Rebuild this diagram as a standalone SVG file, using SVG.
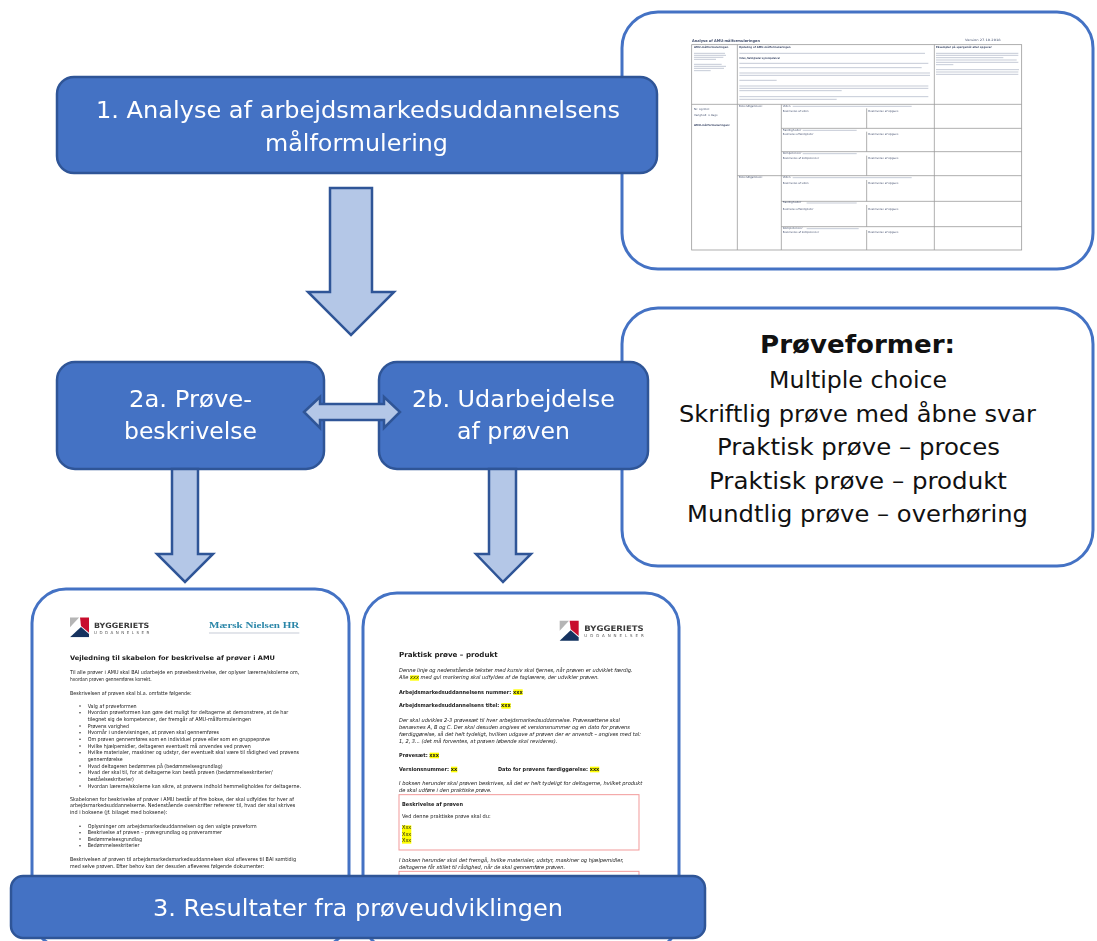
<svg xmlns="http://www.w3.org/2000/svg" width="1097" height="941" viewBox="0 0 1097 941">
<style>
text{font-family:"DejaVu Sans",Verdana,sans-serif}
.box{fill:#4472C4;stroke:#2F5597;stroke-width:2.5}
.panel{fill:#fff;stroke:#4472C4;stroke-width:3}
.lbl{fill:#fff;font-size:23.5px}
.pf{fill:#111;font-size:23.5px}
.arrow{fill:#B4C7E7;stroke:#2F5597;stroke-width:2.5;stroke-linejoin:miter}
.d{fill:#1a1a1a;font-size:16px}
.i{font-style:italic}
.b{font-weight:700}
.hl{fill:#FFFF00}
.red{fill:none;stroke:#F29A9A;stroke-width:3}
.t{fill:#44506e;font-size:8px}
.g{stroke:#9a9a9a;stroke-width:2.4;fill:none}
.bar{stroke:#5c6a8c;stroke-width:2.4;opacity:.45;fill:none}
.dot{fill:#222}
</style>
<defs>
<filter id="soft" x="-5%" y="-5%" width="110%" height="110%"><feGaussianBlur stdDeviation="1.1"/></filter>
<g id="logo">
<polygon points="0,0 28,0 0,30" fill="#B5B5B5"/>
<polygon points="30,0 57,0 57,46 33,26" fill="#C8102E"/>
<polygon points="0,60 33,29 57,50 57,60" fill="#14335F"/>
</g>
</defs>

<g id="panel-analysis">
<rect class="panel" x="622" y="12" width="471" height="257" rx="36"/>
<g transform="translate(620,0) scale(.33333)" filter="url(#soft)">
<text class="t b" x="216" y="125" style="font-size:11px" textLength="204" lengthAdjust="spacingAndGlyphs">Analyse af AMU-målformuleringen</text>
<text class="t" x="1035" y="124" style="font-size:9px" textLength="107" lengthAdjust="spacingAndGlyphs">Version 27.10.2018</text>
<rect class="g" x="215" y="134" width="990" height="616"/>
<path class="g" d="M352 134V750M484 313V750M943 134V750M215 313H1205M484 385H1205M484 455H1205M352 527H1205M484 604H1205M484 680H1205M740 325V385M740 395V455M740 467V527M740 540V604M740 615V680M740 690V750"/>
<text class="t b" x="222" y="145" textLength="103" lengthAdjust="spacingAndGlyphs">AMU-målformuleringen</text>
<text class="t b" x="357" y="145" textLength="155" lengthAdjust="spacingAndGlyphs">Opdeling af AMU-målformuleringen</text>
<text class="t b" x="948" y="145" textLength="167" lengthAdjust="spacingAndGlyphs">Eksempler på spørgsmål eller opgaver</text>
<path class="bar" d="M222 160H315M222 166H318M222 172H310M222 178H288M222 193H305M222 199H318M222 205H312M222 212H272"/>
<path class="bar" d="M358 160H915M358 190H925M358 203H905M358 219H930M358 226H930M358 241H470M358 258H925M358 265H925M358 272H665M358 290H925M358 298H650"/>
<path class="bar" d="M948 160H1195M948 166H1195M948 173H1150M948 180H1190M948 187H1195M948 194H1000M948 209H1197M948 216H1195M948 223H1195"/>
<text class="t b" x="358" y="178" textLength="122" lengthAdjust="spacingAndGlyphs">Viden, færdigheder og kompetencer</text>
<text class="t" x="222" y="331" textLength="48" lengthAdjust="spacingAndGlyphs">Nr. og titel:</text>
<text class="t" x="222" y="349" textLength="71" lengthAdjust="spacingAndGlyphs">Varighed: x dage</text>
<text class="t b" x="222" y="378" textLength="108" lengthAdjust="spacingAndGlyphs">AMU-målformuleringen:</text>
<text class="t" x="357" y="320" textLength="72" lengthAdjust="spacingAndGlyphs">Bekendtgørelsen:</text>
<text class="t" x="357" y="534" textLength="72" lengthAdjust="spacingAndGlyphs">Bekendtgørelsen:</text>
<text class="t" x="488" y="320" textLength="24" lengthAdjust="spacingAndGlyphs">Viden</text>
<path class="bar" d="M518 319H875M518 533H875M548 391H710M548 461H710M560 609H710M560 686H716"/>
<text class="t" x="488" y="534" textLength="24" lengthAdjust="spacingAndGlyphs">Viden</text>
<text class="t" x="488" y="392" textLength="56" lengthAdjust="spacingAndGlyphs">Færdigheder</text>
<text class="t" x="488" y="462" textLength="56" lengthAdjust="spacingAndGlyphs">Kompetencer</text>
<text class="t" x="488" y="610" textLength="56" lengthAdjust="spacingAndGlyphs">Færdigheder</text>
<text class="t" x="488" y="687" textLength="60" lengthAdjust="spacingAndGlyphs">Kompetencer</text>
<text class="t" x="488" y="335" textLength="78" lengthAdjust="spacingAndGlyphs">Beskrivelse af viden</text>
<text class="t" x="488" y="405" textLength="92" lengthAdjust="spacingAndGlyphs">Beskrivelse af færdigheder</text>
<text class="t" x="488" y="477" textLength="109" lengthAdjust="spacingAndGlyphs">Beskrivelse af kompetencer</text>
<text class="t" x="488" y="551" textLength="78" lengthAdjust="spacingAndGlyphs">Beskrivelse af viden</text>
<text class="t" x="488" y="629" textLength="92" lengthAdjust="spacingAndGlyphs">Beskrivelse af færdigheder</text>
<text class="t" x="488" y="700" textLength="109" lengthAdjust="spacingAndGlyphs">Beskrivelse af kompetencer</text>
<text class="t" x="745" y="335" textLength="90" lengthAdjust="spacingAndGlyphs">Beskrivelse af opgave</text>
<text class="t" x="745" y="405" textLength="90" lengthAdjust="spacingAndGlyphs">Beskrivelse af opgave</text>
<text class="t" x="745" y="477" textLength="90" lengthAdjust="spacingAndGlyphs">Beskrivelse af opgave</text>
<text class="t" x="745" y="551" textLength="90" lengthAdjust="spacingAndGlyphs">Beskrivelse af opgave</text>
<text class="t" x="745" y="629" textLength="90" lengthAdjust="spacingAndGlyphs">Beskrivelse af opgave</text>
<text class="t" x="745" y="700" textLength="90" lengthAdjust="spacingAndGlyphs">Beskrivelse af opgave</text>
</g>
</g>

<g id="panel-proeveformer">
<rect class="panel" x="622" y="308" width="471" height="258" rx="36"/>
<text class="pf b" x="760" y="353" style="font-size:25px" textLength="195" lengthAdjust="spacingAndGlyphs">Prøveformer:</text>
<text class="pf" x="769" y="388" textLength="178" lengthAdjust="spacingAndGlyphs">Multiple choice</text>
<text class="pf" x="679" y="422" textLength="357" lengthAdjust="spacingAndGlyphs">Skriftlig prøve med åbne svar</text>
<text class="pf" x="717" y="455" textLength="283" lengthAdjust="spacingAndGlyphs">Praktisk prøve – proces</text>
<text class="pf" x="709" y="489" textLength="298" lengthAdjust="spacingAndGlyphs">Praktisk prøve – produkt</text>
<text class="pf" x="687" y="522" textLength="341" lengthAdjust="spacingAndGlyphs">Mundtlig prøve – overhøring</text>
</g>

<g id="panel-vejledning">
<rect class="panel" x="32" y="589" width="317" height="359" rx="34"/>
<g transform="translate(20,585) scale(.33333)" filter="url(#soft)">
<use href="#logo" x="150" y="97"/>
<text x="222" y="128" class="b" fill="#3a3a3a" font-size="22" textLength="166" lengthAdjust="spacingAndGlyphs">BYGGERIETS</text>
<text x="222" y="147" fill="#555" font-size="12" textLength="166" lengthAdjust="spacing">UDDANNELSER</text>
<text x="567" y="128" style="font-family:'Liberation Serif',serif;font-weight:700;font-size:26px" fill="#2A86A8" textLength="271" lengthAdjust="spacingAndGlyphs">Mærsk Nielsen HR</text>
<path class="bar" d="M567 144H838"/>
<text class="d b" x="150" y="226" style="font-size:19px" textLength="615" lengthAdjust="spacingAndGlyphs">Vejledning til skabelon for beskrivelse af prøver i AMU</text>
<text class="d" x="150" y="268" textLength="688" lengthAdjust="spacingAndGlyphs">Til alle prøver i AMU skal BAI udarbejde en prøvebeskrivelse, der oplyser lærerne/skolerne om,</text>
<text class="d" x="150" y="288" textLength="245" lengthAdjust="spacingAndGlyphs">hvordan prøven gennemføres korrekt.</text>
<text class="d" x="150" y="329" textLength="365" lengthAdjust="spacingAndGlyphs">Beskrivelsen af prøven skal bl.a. omfatte følgende:</text>
<g class="dot"><circle cx="180" cy="363" r="2.2"/><circle cx="180" cy="383" r="2.2"/><circle cx="180" cy="423" r="2.2"/><circle cx="180" cy="443" r="2.2"/><circle cx="180" cy="463" r="2.2"/><circle cx="180" cy="483" r="2.2"/><circle cx="180" cy="503" r="2.2"/><circle cx="180" cy="543" r="2.2"/><circle cx="180" cy="563" r="2.2"/><circle cx="180" cy="603" r="2.2"/><circle cx="180" cy="724" r="2.2"/><circle cx="180" cy="743" r="2.2"/><circle cx="180" cy="762" r="2.2"/><circle cx="180" cy="782" r="2.2"/></g>
<text class="d" x="203" y="368" textLength="147" lengthAdjust="spacingAndGlyphs">Valg af prøveformen</text>
<text class="d" x="203" y="388" textLength="602" lengthAdjust="spacingAndGlyphs">Hvordan prøveformen kan gøre det muligt for deltagerne at demonstrere, at de har</text>
<text class="d" x="203" y="408" textLength="490" lengthAdjust="spacingAndGlyphs">tilegnet sig de kompetencer, der fremgår af AMU-målformuleringen</text>
<text class="d" x="203" y="428" textLength="124" lengthAdjust="spacingAndGlyphs">Prøvens varighed</text>
<text class="d" x="203" y="448" textLength="394" lengthAdjust="spacingAndGlyphs">Hvornår i undervisningen, at prøven skal gennemføres</text>
<text class="d" x="203" y="468" textLength="547" lengthAdjust="spacingAndGlyphs">Om prøven gennemføres som en individuel prøve eller som en gruppeprøve</text>
<text class="d" x="203" y="488" textLength="489" lengthAdjust="spacingAndGlyphs">Hvilke hjælpemidler, deltageren eventuelt må anvendes ved prøven</text>
<text class="d" x="203" y="508" textLength="634" lengthAdjust="spacingAndGlyphs">Hvilke materialer, maskiner og udstyr, der eventuelt skal være til rådighed ved prøvens</text>
<text class="d" x="203" y="528" textLength="105" lengthAdjust="spacingAndGlyphs">gennemførelse</text>
<text class="d" x="203" y="548" textLength="405" lengthAdjust="spacingAndGlyphs">Hvad deltageren bedømmes på (bedømmelsesgrundlag)</text>
<text class="d" x="203" y="568" textLength="555" lengthAdjust="spacingAndGlyphs">Hvad der skal til, for at deltagerne kan bestå prøven (bedømmelseskriterier/</text>
<text class="d" x="203" y="588" textLength="139" lengthAdjust="spacingAndGlyphs">beståelseskriterier)</text>
<text class="d" x="203" y="608" textLength="640" lengthAdjust="spacingAndGlyphs">Hvordan lærerne/skolerne kan sikre, at prøvens indhold hemmeligholdes for deltagerne.</text>
<text class="d" x="150" y="647" textLength="672" lengthAdjust="spacingAndGlyphs">Skabelonen for beskrivelse af prøver i AMU består af fire bokse, der skal udfyldes for hver af</text>
<text class="d" x="150" y="667" textLength="676" lengthAdjust="spacingAndGlyphs">arbejdsmarkedsuddannelserne. Nedenstående overskrifter refererer til, hvad der skal skrives</text>
<text class="d" x="150" y="687" textLength="292" lengthAdjust="spacingAndGlyphs">ind i boksene (jf. bilaget med boksene):</text>
<text class="d" x="203" y="729" textLength="507" lengthAdjust="spacingAndGlyphs">Oplysninger om arbejdsmarkedsuddannelsen og den valgte prøveform</text>
<text class="d" x="203" y="748" textLength="403" lengthAdjust="spacingAndGlyphs">Beskrivelse af prøven – prøvegrundlag og prøverammer</text>
<text class="d" x="203" y="767" textLength="163" lengthAdjust="spacingAndGlyphs">Bedømmelsesgrundlag</text>
<text class="d" x="203" y="787" textLength="155" lengthAdjust="spacingAndGlyphs">Bedømmelseskriterier</text>
<text class="d" x="150" y="828" textLength="678" lengthAdjust="spacingAndGlyphs">Beskrivelsen af prøven til arbejdsmarkedsmarkedsuddannelsen skal afleveres til BAI samtidig</text>
<text class="d" x="150" y="848" textLength="583" lengthAdjust="spacingAndGlyphs">med selve prøven. Efter behov kan der desuden afleveres følgende dokumenter:</text>
</g>
</g>

<g id="panel-praktisk">
<rect class="panel" x="363" y="593" width="316" height="358" rx="34"/>
<g transform="translate(355,585) scale(.33333)" filter="url(#soft)">
<use href="#logo" x="614" y="107"/>
<text x="688" y="138" class="b" fill="#3a3a3a" font-size="23" textLength="178" lengthAdjust="spacingAndGlyphs">BYGGERIETS</text>
<text x="688" y="155" fill="#555" font-size="12" textLength="178" lengthAdjust="spacing">UDDANNELSER</text>
<text class="d b" x="132" y="217" style="font-size:21px" textLength="296" lengthAdjust="spacingAndGlyphs">Praktisk prøve – produkt</text>
<rect class="hl" x="165" y="271" width="27" height="16"/>
<rect class="hl" x="475" y="313" width="28" height="17"/>
<rect class="hl" x="439" y="354" width="28" height="17"/>
<rect class="hl" x="224" y="503" width="28" height="17"/>
<rect class="hl" x="288" y="545" width="19" height="17"/>
<rect class="hl" x="705" y="545" width="28" height="17"/>
<rect class="hl" x="141" y="721" width="28" height="55"/>
<text class="d i" x="132" y="261" textLength="701" lengthAdjust="spacingAndGlyphs">Denne linje og nedenstående tekster med kursiv skal fjernes, når prøven er udviklet færdig.</text>
<text class="d i" x="132" y="283" textLength="600" lengthAdjust="spacingAndGlyphs">Alle xxx med gul markering skal udfyldes af de faglærere, der udvikler prøven.</text>
<text class="d b" x="132" y="326" textLength="371" lengthAdjust="spacingAndGlyphs">Arbejdsmarkedsuddannelsens nummer: xxx</text>
<text class="d b" x="132" y="367" textLength="335" lengthAdjust="spacingAndGlyphs">Arbejdsmarkedsuddannelsens titel: xxx</text>
<text class="d i" x="132" y="410" textLength="663" lengthAdjust="spacingAndGlyphs">Der skal udvikles 2-3 prøvesæt til hver arbejdsmarkedsuddannelse. Prøvesættene skal</text>
<text class="d i" x="132" y="432" textLength="693" lengthAdjust="spacingAndGlyphs">benævnes A, B og C. Der skal desuden angives et versionsnummer og en dato for prøvens</text>
<text class="d i" x="132" y="454" textLength="726" lengthAdjust="spacingAndGlyphs">færdiggørelse, så det helt tydeligt, hvilken udgave af prøven der er anvendt – angives med tal:</text>
<text class="d i" x="132" y="475" textLength="475" lengthAdjust="spacingAndGlyphs">1, 2, 3... (det må forventes, at prøven løbende skal revideres).</text>
<text class="d b" x="132" y="516" textLength="120" lengthAdjust="spacingAndGlyphs">Prøvesæt: xxx</text>
<text class="d b" x="132" y="559" textLength="175" lengthAdjust="spacingAndGlyphs">Versionsnummer: xx</text>
<text class="d b" x="429" y="559" textLength="304" lengthAdjust="spacingAndGlyphs">Dato for prøvens færdiggørelse: xxx</text>
<text class="d i" x="132" y="601" textLength="730" lengthAdjust="spacingAndGlyphs">I boksen herunder skal prøven beskrives, så det er helt tydeligt for deltagerne, hvilket produkt</text>
<text class="d i" x="132" y="622" textLength="278" lengthAdjust="spacingAndGlyphs">de skal udføre i den praktiske prøve.</text>
<rect class="red" x="132" y="629" width="720" height="166"/>
<text class="d b" x="141" y="664" textLength="183" lengthAdjust="spacingAndGlyphs">Beskrivelse af prøven</text>
<text class="d" x="141" y="700" textLength="266" lengthAdjust="spacingAndGlyphs">Ved denne praktiske prøve skal du:</text>
<text class="d" x="141" y="733" textLength="28" lengthAdjust="spacingAndGlyphs">Xxx</text>
<text class="d" x="141" y="752" textLength="28" lengthAdjust="spacingAndGlyphs">Xxx</text>
<text class="d" x="141" y="771" textLength="28" lengthAdjust="spacingAndGlyphs">Xxx</text>
<text class="d i" x="132" y="831" textLength="674" lengthAdjust="spacingAndGlyphs">I boksen herunder skal det fremgå, hvilke materialer, udstyr, maskiner og hjælpemidler,</text>
<text class="d i" x="132" y="852" textLength="498" lengthAdjust="spacingAndGlyphs">deltagerne får stillet til rådighed, når de skal gennemføre prøven.</text>
<rect class="red" x="132" y="859" width="720" height="100"/>
</g>
</g>

<g id="node-1">
<rect class="box" x="57" y="77" width="600" height="96" rx="17"/>
<text class="lbl" x="96" y="118" textLength="524" lengthAdjust="spacingAndGlyphs">1. Analyse af arbejdsmarkedsuddannelsens</text>
<text class="lbl" x="265" y="151" textLength="183" lengthAdjust="spacingAndGlyphs">målformulering</text>
</g>
<g id="node-2a">
<rect class="box" x="57" y="362" width="267" height="107" rx="18"/>
<text class="lbl" x="129" y="407" textLength="123" lengthAdjust="spacingAndGlyphs">2a. Prøve-</text>
<text class="lbl" x="124" y="439" textLength="133" lengthAdjust="spacingAndGlyphs">beskrivelse</text>
</g>
<g id="node-2b">
<rect class="box" x="379" y="362" width="269" height="107" rx="18"/>
<text class="lbl" x="412" y="407" textLength="203" lengthAdjust="spacingAndGlyphs">2b. Udarbejdelse</text>
<text class="lbl" x="457" y="439" textLength="113" lengthAdjust="spacingAndGlyphs">af prøven</text>
</g>
<g id="node-3">
<rect class="box" x="11" y="876" width="694" height="62" rx="12"/>
<text class="lbl" x="153" y="916" textLength="410" lengthAdjust="spacingAndGlyphs">3. Resultater fra prøveudviklingen</text>
</g>

<g id="connectors">
<polygon class="arrow" points="330,188 372,188 372,292 394,292 351,335 308,292 330,292"/>
<polygon class="arrow" points="172,469 198,469 198,554 213,554 185,582 157,554 172,554"/>
<polygon class="arrow" points="489,469 516,469 516,554 531,554 503,582 476,554 489,554"/>
<polygon class="arrow" points="304,412 320,397 320,404 384,404 384,397 400,412 384,428 384,420 320,420 320,428"/>
</g>
</svg>
